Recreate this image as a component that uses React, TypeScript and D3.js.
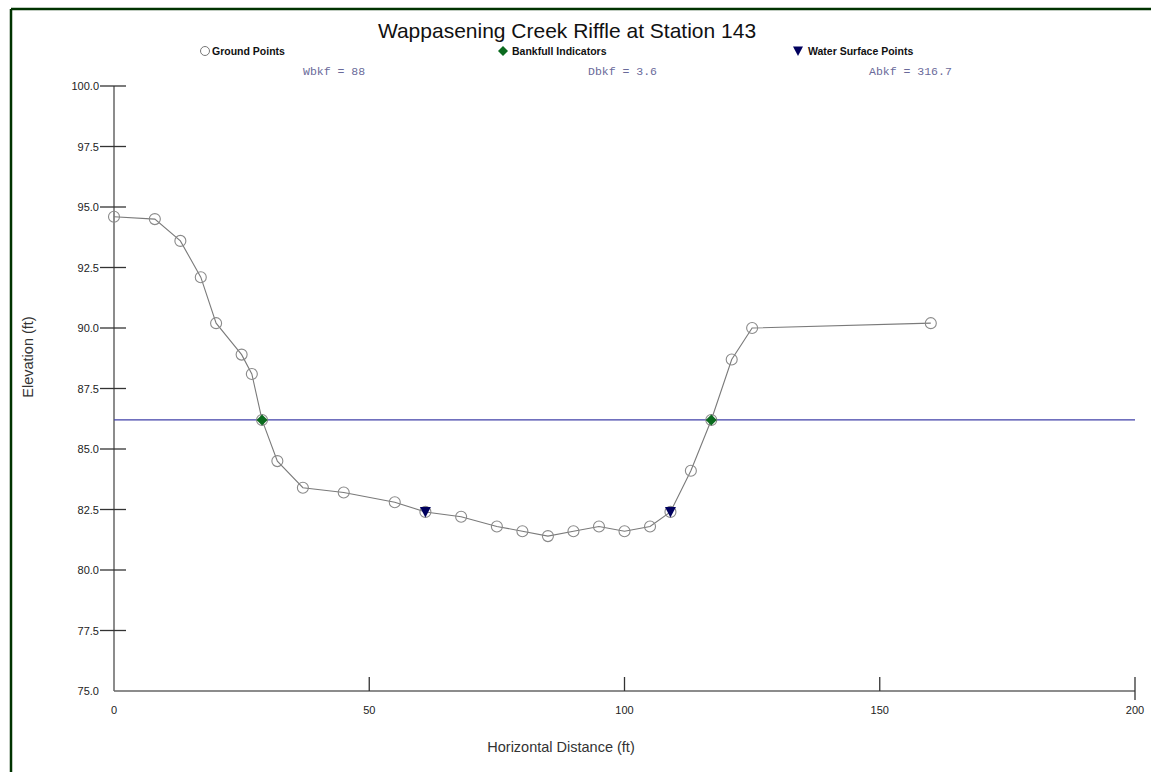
import React from "react";
import * as d3 from "d3";

const groundX = [0, 8, 13, 17, 20, 25, 27, 29, 32, 37, 45, 55, 61, 68, 75, 80, 85, 90, 95, 100, 105, 109, 113, 117, 121, 125, 160];
const groundY = [94.6, 94.5, 93.6, 92.1, 90.2, 88.9, 88.1, 86.2, 84.5, 83.4, 83.2, 82.8, 82.4, 82.2, 81.8, 81.6, 81.4, 81.6, 81.8, 81.6, 81.8, 82.4, 84.1, 86.2, 88.7, 90.0, 90.2];
const bankfullX = [29, 117];
const bankfullY = [86.2, 86.2];
const waterX = [61, 109];
const waterY = [82.4, 82.4];
const bankfullElevation = 86.2;
const xTicks = [0, 50, 100, 150, 200];
const yTicks = [75, 77.5, 80, 82.5, 85, 87.5, 90, 92.5, 95, 97.5, 100];
const title = "Wappasening Creek Riffle at Station 143";
const legendLabels = ["Ground Points", "Bankfull Indicators", "Water Surface Points"];
const statLabels = ["Wbkf = 88", "Dbkf = 3.6", "Abkf = 316.7"];

const W = 1151;
const H = 772;
const left = 114, right = 1135, top = 86, bottom = 691;

export default function App() {
  const x = d3.scaleLinear().domain([0, 200]).range([left, right]);
  const y = d3.scaleLinear().domain([75, 100]).range([bottom, top]);
  const line = d3.line<number>().x((_, i) => x(groundX[i])).y((d) => y(d));
  const dia = (cx: number, cy: number, r: number) =>
    `M${cx},${cy - r}L${cx + r},${cy}L${cx},${cy + r}L${cx - r},${cy}Z`;
  const tri = (cx: number, cy: number, s: number) =>
    `M${cx - s / 2},${cy - s * 0.45}L${cx + s / 2},${cy - s * 0.45}L${cx},${cy + s * 0.5}Z`;
  const font = "Arial, 'Liberation Sans', sans-serif";
  const legendPos = [212, 512, 808];
  const statPos = [303, 588, 869];

  return (
    <svg width={W} height={H} style={{ position: "absolute", left: 0, top: 0, background: "#fff" }}>
      <rect x={0} y={0} width={W} height={H} fill="#fff" />
      {/* frame */}
      <line x1={11} x2={W} y1={9} y2={9} stroke="#003300" strokeWidth={2.5} />
      <line x1={11} x2={11} y1={9} y2={H} stroke="#003300" strokeWidth={2.5} />

      <text x={567} y={38} textAnchor="middle" fontFamily={font} fontSize={21} fill="#111">{title}</text>

      {/* legend */}
      <circle cx={legendPos[0] - 7} cy={51} r={4.5} fill="none" stroke="#777" strokeWidth={1} />
      <path d={dia(legendPos[1] - 9, 51, 5)} fill="#0b6b1f" />
      <path d={tri(legendPos[2] - 10, 51, 10)} fill="#00005e" />
      {legendLabels.map((t, i) => (
        <text key={t} x={legendPos[i]} y={55} fontFamily={font} fontSize={10.5} fill="#111" fontWeight={600}>{t}</text>
      ))}
      {statLabels.map((t, i) => (
        <text key={t} x={statPos[i]} y={75} fontFamily="'Liberation Mono', 'Courier New', monospace" fontSize={11.5} fill="#6a6a9a">{t}</text>
      ))}

      {/* axes */}
      <line x1={left} x2={left} y1={top} y2={bottom} stroke="#666" strokeWidth={1.5} />
      <line x1={left} x2={right} y1={bottom} y2={bottom} stroke="#666" strokeWidth={1.5} />
      {yTicks.map((t) => (
        <g key={t}>
          {t !== 75 && <line x1={100} x2={126} y1={y(t)} y2={y(t)} stroke="#333" strokeWidth={1.3} />}
          <text x={99} y={y(t) + 4} textAnchor="end" fontFamily={font} fontSize={11} fill="#222">{t.toFixed(1)}</text>
        </g>
      ))}
      {xTicks.map((t) => (
        <g key={t}>
          {t !== 0 && <line x1={x(t)} x2={x(t)} y1={677} y2={t === 200 ? 700 : bottom} stroke="#333" strokeWidth={1.3} />}
          <text x={x(t)} y={714} textAnchor="middle" fontFamily={font} fontSize={11} fill="#222">{t}</text>
        </g>
      ))}
      <text x={561} y={752} textAnchor="middle" fontFamily={font} fontSize={14.5} fill="#333">Horizontal Distance (ft)</text>
      <text transform={`translate(33,357) rotate(-90)`} textAnchor="middle" fontFamily={font} fontSize={14.5} fill="#333">Elevation (ft)</text>

      {/* bankfull line */}
      <line x1={left} x2={right} y1={y(bankfullElevation)} y2={y(bankfullElevation)} stroke="#4040a8" strokeWidth={1.2} />

      {/* ground profile */}
      <path d={line(groundY) || ""} fill="none" stroke="#7a7a7a" strokeWidth={1.1} />
      {groundY.map((v, i) => (
        <circle key={i} cx={x(groundX[i])} cy={y(v)} r={5.5} fill="none" stroke="#8a8a8a" strokeWidth={1.1} />
      ))}
      {bankfullY.map((v, i) => (
        <path key={i} d={dia(x(bankfullX[i]), y(v), 5.5)} fill="#0b6b1f" />
      ))}
      {waterY.map((v, i) => (
        <path key={i} d={tri(x(waterX[i]), y(v), 11)} fill="#00005e" />
      ))}
    </svg>
  );
}
